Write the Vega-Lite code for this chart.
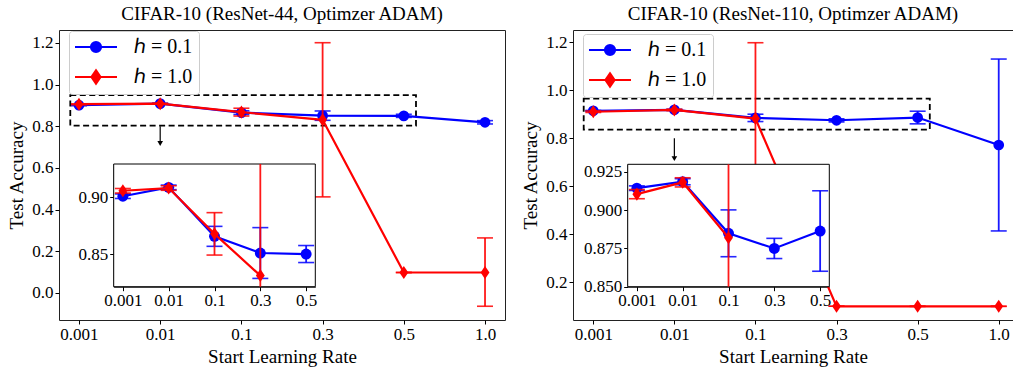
{
  "$schema": "https://vega.github.io/schema/vega-lite/v6.json",
  "background": "white",
  "padding": {"left": 7, "top": 4, "right": 0, "bottom": 0},
  "autosize": {"type": "pad"},
  "spacing": 68,
  "bounds": "flush",
  "config": {
    "font": "Liberation Serif",
    "view": {"stroke": "#222222", "strokeWidth": 1},
    "axis": {"grid": false, "domain": false, "labelFont": "Liberation Serif", "labelFontSize": 17, "labelColor": "black", "titleFont": "Liberation Serif", "titleFontSize": 19, "titleFontWeight": "normal", "titleColor": "black", "tickColor": "black", "tickSize": 4, "labelPadding": 2, "titlePadding": 5},
    "title": {"font": "Liberation Serif", "fontSize": 19, "fontWeight": "normal", "color": "black", "offset": 6},
    "legend": {"orient": "none", "legendX": 10, "legendY": 1, "title": null, "labelFont": "Liberation Serif", "labelFontSize": 20, "labelColor": "black", "symbolSize": 100, "symbolOpacity": 1, "symbolStrokeWidth": 2.2, "symbolOffset": 11, "labelOffset": 28, "rowPadding": 9, "padding": 6, "strokeColor": "#cccccc", "fillColor": "rgba(255,255,255,0.8)", "cornerRadius": 3}
  },
  "datasets": {
    "r44": [
      {"h": "ℎ = 0.1", "idx": 0, "acc": 0.901, "lo": 0.899, "hi": 0.903},
      {"h": "ℎ = 0.1", "idx": 1, "acc": 0.9088, "lo": 0.9068, "hi": 0.9108},
      {"h": "ℎ = 0.1", "idx": 2, "acc": 0.8656, "lo": 0.8568, "hi": 0.8744},
      {"h": "ℎ = 0.1", "idx": 3, "acc": 0.8509, "lo": 0.8285, "hi": 0.8733},
      {"h": "ℎ = 0.1", "idx": 4, "acc": 0.85, "lo": 0.8425, "hi": 0.8575},
      {"h": "ℎ = 0.1", "idx": 5, "acc": 0.819, "lo": 0.811, "hi": 0.827},
      {"h": "ℎ = 1.0", "idx": 0, "acc": 0.9058, "lo": 0.9038, "hi": 0.9078},
      {"h": "ℎ = 1.0", "idx": 1, "acc": 0.9082, "lo": 0.9062, "hi": 0.9102},
      {"h": "ℎ = 1.0", "idx": 2, "acc": 0.8678, "lo": 0.8491, "hi": 0.8865},
      {"h": "ℎ = 1.0", "idx": 3, "acc": 0.831, "lo": 0.461, "hi": 1.201},
      {"h": "ℎ = 1.0", "idx": 4, "acc": 0.098, "lo": 0.098, "hi": 0.098},
      {"h": "ℎ = 1.0", "idx": 5, "acc": 0.098, "lo": -0.064, "hi": 0.264}
    ],
    "r110": [
      {"h": "ℎ = 0.1", "idx": 0, "acc": 0.9144, "lo": 0.9129, "hi": 0.9159},
      {"h": "ℎ = 0.1", "idx": 1, "acc": 0.9186, "lo": 0.9166, "hi": 0.9206},
      {"h": "ℎ = 0.1", "idx": 2, "acc": 0.8849, "lo": 0.8696, "hi": 0.9002},
      {"h": "ℎ = 0.1", "idx": 3, "acc": 0.875, "lo": 0.8684, "hi": 0.8816},
      {"h": "ℎ = 0.1", "idx": 4, "acc": 0.8864, "lo": 0.8601, "hi": 0.9127},
      {"h": "ℎ = 0.1", "idx": 5, "acc": 0.772, "lo": 0.414, "hi": 1.13},
      {"h": "ℎ = 1.0", "idx": 0, "acc": 0.9105, "lo": 0.9075, "hi": 0.9135},
      {"h": "ℎ = 1.0", "idx": 1, "acc": 0.9182, "lo": 0.9152, "hi": 0.9212},
      {"h": "ℎ = 1.0", "idx": 2, "acc": 0.882, "lo": 0.566, "hi": 1.198},
      {"h": "ℎ = 1.0", "idx": 3, "acc": 0.1, "lo": 0.1, "hi": 0.1},
      {"h": "ℎ = 1.0", "idx": 4, "acc": 0.1, "lo": 0.1, "hi": 0.1},
      {"h": "ℎ = 1.0", "idx": 5, "acc": 0.1, "lo": 0.1, "hi": 0.1}
    ]
  },
  "hconcat": [
    {
      "width": 446, "height": 290,
      "title": {"text": "CIFAR-10 (ResNet-44, Optimzer ADAM)"},
      "resolve": {"scale": {"x": "independent", "y": "independent"}, "axis": {"x": "independent", "y": "independent"}},
      "layer": [
        {
          "encoding": {
            "x": {"field": "idx", "type": "quantitative", "title": "Start Learning Rate", "scale": {"domain": [-0.246, 5.246], "nice": false, "zero": false}, "axis": {"orient": "bottom", "values": [0, 1, 2, 3, 4, 5], "labelExpr": "['0.001','0.01','0.1','0.3','0.5','1.0'][datum.value]"}},
            "y": {"field": "acc", "type": "quantitative", "title": "Test Accuracy", "scale": {"domain": [-0.13, 1.262], "nice": false, "zero": false}, "axis": {"orient": "left", "values": [0, 0.2, 0.4, 0.6, 0.8, 1.0, 1.2], "format": ".1f"}}
          },
          "layer": [
            {"data": {"name": "r44"}, "transform": [{"filter": "datum.idx == 0 && datum.h == 'ℎ = 0.1'"}], "mark": {"type": "rect", "filled": false, "stroke": "black", "strokeWidth": 1.8, "strokeDash": [6, 3.5]},
             "encoding": {"x": {"datum": -0.107, "type": "quantitative"}, "x2": {"datum": 4.15}, "y": {"datum": 0.803, "type": "quantitative"}, "y2": {"datum": 0.949}}},
            {"data": {"name": "r44"}, "transform": [{"filter": "datum.idx == 0 && datum.h == 'ℎ = 0.1'"}], "mark": {"type": "rule", "color": "black", "strokeWidth": 1.2},
             "encoding": {"x": {"datum": 1, "type": "quantitative"}, "y": {"datum": 0.8, "type": "quantitative"}, "y2": {"datum": 0.722}}},
            {"data": {"name": "r44"}, "transform": [{"filter": "datum.idx == 0 && datum.h == 'ℎ = 0.1'"}], "mark": {"type": "point", "shape": "triangle-down", "filled": true, "color": "black", "size": 32, "opacity": 1},
             "encoding": {"x": {"datum": 1, "type": "quantitative"}, "y": {"datum": 0.717, "type": "quantitative"}}},
            {"data": {"name": "r44"}, "transform": [{"filter": "datum.h == 'ℎ = 0.1'"}],
             "layer": [
               {"mark": {"type": "rule", "color": "#0000ff", "strokeWidth": 1.8, "opacity": 0.9}, "encoding": {"y": {"field": "lo", "type": "quantitative", "title": "Test Accuracy"}, "y2": {"field": "hi"}}},
               {"mark": {"type": "tick", "color": "#0000ff", "orient": "horizontal", "size": 16, "thickness": 1.6, "opacity": 0.85}, "encoding": {"y": {"field": "lo", "type": "quantitative", "title": "Test Accuracy"}}},
               {"mark": {"type": "tick", "color": "#0000ff", "orient": "horizontal", "size": 16, "thickness": 1.6, "opacity": 0.85}, "encoding": {"y": {"field": "hi", "type": "quantitative", "title": "Test Accuracy"}}},
               {"mark": {"type": "line", "color": "#0000ff", "strokeWidth": 2.2, "opacity": 1}},
               {"mark": {"type": "point", "color": "#0000ff", "shape": "circle", "filled": true, "size": 115, "opacity": 1}}
             ]},
            {"data": {"name": "r44"}, "transform": [{"filter": "datum.h == 'ℎ = 1.0'"}],
             "layer": [
               {"mark": {"type": "rule", "color": "#ff0000", "strokeWidth": 1.8, "opacity": 0.9}, "encoding": {"y": {"field": "lo", "type": "quantitative", "title": "Test Accuracy"}, "y2": {"field": "hi"}}},
               {"mark": {"type": "tick", "color": "#ff0000", "orient": "horizontal", "size": 16, "thickness": 1.6, "opacity": 0.85}, "encoding": {"y": {"field": "lo", "type": "quantitative", "title": "Test Accuracy"}}},
               {"mark": {"type": "tick", "color": "#ff0000", "orient": "horizontal", "size": 16, "thickness": 1.6, "opacity": 0.85}, "encoding": {"y": {"field": "hi", "type": "quantitative", "title": "Test Accuracy"}}},
               {"mark": {"type": "line", "color": "#ff0000", "strokeWidth": 2.2, "opacity": 1}},
               {"mark": {"type": "point", "color": "#ff0000", "shape": "M0,-1L0.68,0L0,1L-0.68,0Z", "filled": true, "size": 170, "opacity": 1}}
             ]},
            {"data": {"name": "r44"},
             "mark": {"type": "point", "filled": true, "size": 0, "opacity": 1},
             "encoding": {
               "fill": {"field": "h", "type": "nominal", "scale": {"domain": ["ℎ = 0.1", "ℎ = 1.0"], "range": ["#0000ff", "#ff0000"]}},
               "stroke": {"field": "h", "type": "nominal", "scale": {"domain": ["ℎ = 0.1", "ℎ = 1.0"], "range": ["#0000ff", "#ff0000"]}},
               "shape": {"field": "h", "type": "nominal", "scale": {"domain": ["ℎ = 0.1", "ℎ = 1.0"], "range": ["M-4.2,0L4.2,0M1,0A1,1,0,1,1,-1,0A1,1,0,1,1,1,0Z", "M-4.2,0L4.2,0M0,-1.3L0.9,0L0,1.3L-0.9,0Z"]}}
             }}
          ]
        },
        {
          "encoding": {
            "x": {"field": "idx", "type": "quantitative", "title": null, "scale": {"domain": [-0.2, 4.2], "range": [54.7, 256.3], "nice": false, "zero": false}, "axis": {"orient": "bottom", "offset": -33.3, "values": [0, 1, 2, 3, 4], "labelExpr": "['0.001','0.01','0.1','0.3','0.5'][datum.value]", "title": null, "domain": true, "domainColor": "black"}},
            "y": {"field": "acc", "type": "quantitative", "title": null, "scale": {"domain": [0.8212, 0.9294], "range": [256.7, 134], "clamp": true, "nice": false, "zero": false}, "axis": {"orient": "left", "offset": -54.7, "values": [0.85, 0.9], "format": ".2f", "title": null, "domain": true, "domainColor": "black"}}
          },
          "layer": [
            {"data": {"name": "r44"}, "transform": [{"filter": "datum.idx == 0 && datum.h == 'ℎ = 0.1'"}], "mark": {"type": "rect", "fill": "white", "stroke": "black", "strokeWidth": 1},
             "encoding": {"x": {"datum": -0.2, "type": "quantitative"}, "x2": {"datum": 4.2}, "y": {"datum": 0.8212, "type": "quantitative"}, "y2": {"datum": 0.9294}}},
            {"data": {"name": "r44"}, "transform": [{"filter": "datum.h == 'ℎ = 0.1' && datum.idx <= 4 && datum.acc >= 0.8212 && datum.acc <= 0.9294"}],
             "layer": [
               {"mark": {"type": "rule", "color": "#0000ff", "strokeWidth": 1.8, "opacity": 0.9}, "encoding": {"y": {"field": "lo", "type": "quantitative", "title": null}, "y2": {"field": "hi"}}},
               {"transform": [{"filter": "datum.lo >= 0.8212"}], "mark": {"type": "tick", "color": "#0000ff", "orient": "horizontal", "size": 16, "thickness": 1.6, "opacity": 0.85}, "encoding": {"y": {"field": "lo", "type": "quantitative", "title": null}}},
               {"transform": [{"filter": "datum.hi <= 0.9294"}], "mark": {"type": "tick", "color": "#0000ff", "orient": "horizontal", "size": 16, "thickness": 1.6, "opacity": 0.85}, "encoding": {"y": {"field": "hi", "type": "quantitative", "title": null}}},
               {"mark": {"type": "line", "color": "#0000ff", "strokeWidth": 2.2, "opacity": 1}},
               {"mark": {"type": "point", "color": "#0000ff", "shape": "circle", "filled": true, "size": 120, "opacity": 1}}
             ]},
            {"data": {"name": "r44"}, "transform": [{"filter": "datum.h == 'ℎ = 1.0' && datum.idx <= 4 && datum.acc >= 0.8212 && datum.acc <= 0.9294"}],
             "layer": [
               {"mark": {"type": "rule", "color": "#ff0000", "strokeWidth": 1.8, "opacity": 0.9}, "encoding": {"y": {"field": "lo", "type": "quantitative", "title": null}, "y2": {"field": "hi"}}},
               {"transform": [{"filter": "datum.lo >= 0.8212"}], "mark": {"type": "tick", "color": "#ff0000", "orient": "horizontal", "size": 16, "thickness": 1.6, "opacity": 0.85}, "encoding": {"y": {"field": "lo", "type": "quantitative", "title": null}}},
               {"transform": [{"filter": "datum.hi <= 0.9294"}], "mark": {"type": "tick", "color": "#ff0000", "orient": "horizontal", "size": 16, "thickness": 1.6, "opacity": 0.85}, "encoding": {"y": {"field": "hi", "type": "quantitative", "title": null}}},
               {"mark": {"type": "line", "color": "#ff0000", "strokeWidth": 2.2, "opacity": 1}},
               {"mark": {"type": "point", "color": "#ff0000", "shape": "M0,-1L0.68,0L0,1L-0.68,0Z", "filled": true, "size": 170, "opacity": 1}}
             ]}
          ]
        }
      ]
    },
    {
      "width": 440, "height": 290,
      "title": {"text": "CIFAR-10 (ResNet-110, Optimzer ADAM)"},
      "resolve": {"scale": {"x": "independent", "y": "independent"}, "axis": {"x": "independent", "y": "independent"}},
      "layer": [
        {
          "encoding": {
            "x": {"field": "idx", "type": "quantitative", "title": "Start Learning Rate", "scale": {"domain": [-0.25, 5.176], "nice": false, "zero": false}, "axis": {"orient": "bottom", "values": [0, 1, 2, 3, 4, 5], "labelExpr": "['0.001','0.01','0.1','0.3','0.5','1.0'][datum.value]"}},
            "y": {"field": "acc", "type": "quantitative", "title": "Test Accuracy", "scale": {"domain": [0.043, 1.251], "nice": false, "zero": false}, "axis": {"orient": "left", "values": [0.2, 0.4, 0.6, 0.8, 1.0, 1.2], "format": ".1f"}}
          },
          "layer": [
            {"data": {"name": "r110"}, "transform": [{"filter": "datum.idx == 0 && datum.h == 'ℎ = 0.1'"}], "mark": {"type": "rect", "filled": false, "stroke": "black", "strokeWidth": 1.8, "strokeDash": [6, 3.5]},
             "encoding": {"x": {"datum": -0.118, "type": "quantitative"}, "x2": {"datum": 4.15}, "y": {"datum": 0.836, "type": "quantitative"}, "y2": {"datum": 0.965}}},
            {"data": {"name": "r110"}, "transform": [{"filter": "datum.idx == 0 && datum.h == 'ℎ = 0.1'"}], "mark": {"type": "rule", "color": "black", "strokeWidth": 1.2},
             "encoding": {"x": {"datum": 1, "type": "quantitative"}, "y": {"datum": 0.8, "type": "quantitative"}, "y2": {"datum": 0.72}}},
            {"data": {"name": "r110"}, "transform": [{"filter": "datum.idx == 0 && datum.h == 'ℎ = 0.1'"}], "mark": {"type": "point", "shape": "triangle-down", "filled": true, "color": "black", "size": 32, "opacity": 1},
             "encoding": {"x": {"datum": 1, "type": "quantitative"}, "y": {"datum": 0.715, "type": "quantitative"}}},
            {"data": {"name": "r110"}, "transform": [{"filter": "datum.h == 'ℎ = 0.1'"}],
             "layer": [
               {"mark": {"type": "rule", "color": "#0000ff", "strokeWidth": 1.8, "opacity": 0.9}, "encoding": {"y": {"field": "lo", "type": "quantitative", "title": "Test Accuracy"}, "y2": {"field": "hi"}}},
               {"mark": {"type": "tick", "color": "#0000ff", "orient": "horizontal", "size": 16, "thickness": 1.6, "opacity": 0.85}, "encoding": {"y": {"field": "lo", "type": "quantitative", "title": "Test Accuracy"}}},
               {"mark": {"type": "tick", "color": "#0000ff", "orient": "horizontal", "size": 16, "thickness": 1.6, "opacity": 0.85}, "encoding": {"y": {"field": "hi", "type": "quantitative", "title": "Test Accuracy"}}},
               {"mark": {"type": "line", "color": "#0000ff", "strokeWidth": 2.2, "opacity": 1}},
               {"mark": {"type": "point", "color": "#0000ff", "shape": "circle", "filled": true, "size": 115, "opacity": 1}}
             ]},
            {"data": {"name": "r110"}, "transform": [{"filter": "datum.h == 'ℎ = 1.0'"}],
             "layer": [
               {"mark": {"type": "rule", "color": "#ff0000", "strokeWidth": 1.8, "opacity": 0.9}, "encoding": {"y": {"field": "lo", "type": "quantitative", "title": "Test Accuracy"}, "y2": {"field": "hi"}}},
               {"mark": {"type": "tick", "color": "#ff0000", "orient": "horizontal", "size": 16, "thickness": 1.6, "opacity": 0.85}, "encoding": {"y": {"field": "lo", "type": "quantitative", "title": "Test Accuracy"}}},
               {"mark": {"type": "tick", "color": "#ff0000", "orient": "horizontal", "size": 16, "thickness": 1.6, "opacity": 0.85}, "encoding": {"y": {"field": "hi", "type": "quantitative", "title": "Test Accuracy"}}},
               {"mark": {"type": "line", "color": "#ff0000", "strokeWidth": 2.2, "opacity": 1}},
               {"mark": {"type": "point", "color": "#ff0000", "shape": "M0,-1L0.68,0L0,1L-0.68,0Z", "filled": true, "size": 170, "opacity": 1}}
             ]},
            {"data": {"name": "r110"},
             "mark": {"type": "point", "filled": true, "size": 0, "opacity": 1},
             "encoding": {
               "fill": {"field": "h", "type": "nominal", "scale": {"domain": ["ℎ = 0.1", "ℎ = 1.0"], "range": ["#0000ff", "#ff0000"]}, "legend": {"legendY": 4}},
               "stroke": {"field": "h", "type": "nominal", "scale": {"domain": ["ℎ = 0.1", "ℎ = 1.0"], "range": ["#0000ff", "#ff0000"]}, "legend": {"legendY": 4}},
               "shape": {"field": "h", "type": "nominal", "scale": {"domain": ["ℎ = 0.1", "ℎ = 1.0"], "range": ["M-4.2,0L4.2,0M1,0A1,1,0,1,1,-1,0A1,1,0,1,1,1,0Z", "M-4.2,0L4.2,0M0,-1.3L0.9,0L0,1.3L-0.9,0Z"]}, "legend": {"legendY": 4}}
             }}
          ]
        },
        {
          "encoding": {
            "x": {"field": "idx", "type": "quantitative", "title": null, "scale": {"domain": [-0.2, 4.2], "range": [54.7, 256.3], "nice": false, "zero": false}, "axis": {"orient": "bottom", "offset": -33.3, "values": [0, 1, 2, 3, 4], "labelExpr": "['0.001','0.01','0.1','0.3','0.5'][datum.value]", "title": null, "domain": true, "domainColor": "black"}},
            "y": {"field": "acc", "type": "quantitative", "title": null, "scale": {"domain": [0.85, 0.93], "range": [256.7, 134.3], "clamp": true, "nice": false, "zero": false}, "axis": {"orient": "left", "offset": -54.7, "values": [0.85, 0.875, 0.9, 0.925], "format": ".3f", "title": null, "domain": true, "domainColor": "black"}}
          },
          "layer": [
            {"data": {"name": "r110"}, "transform": [{"filter": "datum.idx == 0 && datum.h == 'ℎ = 0.1'"}], "mark": {"type": "rect", "fill": "white", "stroke": "black", "strokeWidth": 1},
             "encoding": {"x": {"datum": -0.2, "type": "quantitative"}, "x2": {"datum": 4.2}, "y": {"datum": 0.85, "type": "quantitative"}, "y2": {"datum": 0.93}}},
            {"data": {"name": "r110"}, "transform": [{"filter": "datum.h == 'ℎ = 0.1' && datum.idx <= 4 && datum.acc >= 0.85 && datum.acc <= 0.93"}],
             "layer": [
               {"mark": {"type": "rule", "color": "#0000ff", "strokeWidth": 1.8, "opacity": 0.9}, "encoding": {"y": {"field": "lo", "type": "quantitative", "title": null}, "y2": {"field": "hi"}}},
               {"transform": [{"filter": "datum.lo >= 0.85"}], "mark": {"type": "tick", "color": "#0000ff", "orient": "horizontal", "size": 16, "thickness": 1.6, "opacity": 0.85}, "encoding": {"y": {"field": "lo", "type": "quantitative", "title": null}}},
               {"transform": [{"filter": "datum.hi <= 0.93"}], "mark": {"type": "tick", "color": "#0000ff", "orient": "horizontal", "size": 16, "thickness": 1.6, "opacity": 0.85}, "encoding": {"y": {"field": "hi", "type": "quantitative", "title": null}}},
               {"mark": {"type": "line", "color": "#0000ff", "strokeWidth": 2.2, "opacity": 1}},
               {"mark": {"type": "point", "color": "#0000ff", "shape": "circle", "filled": true, "size": 120, "opacity": 1}}
             ]},
            {"data": {"name": "r110"}, "transform": [{"filter": "datum.h == 'ℎ = 1.0' && datum.idx <= 4 && datum.acc >= 0.85 && datum.acc <= 0.93"}],
             "layer": [
               {"mark": {"type": "rule", "color": "#ff0000", "strokeWidth": 1.8, "opacity": 0.9}, "encoding": {"y": {"field": "lo", "type": "quantitative", "title": null}, "y2": {"field": "hi"}}},
               {"transform": [{"filter": "datum.lo >= 0.85"}], "mark": {"type": "tick", "color": "#ff0000", "orient": "horizontal", "size": 16, "thickness": 1.6, "opacity": 0.85}, "encoding": {"y": {"field": "lo", "type": "quantitative", "title": null}}},
               {"transform": [{"filter": "datum.hi <= 0.93"}], "mark": {"type": "tick", "color": "#ff0000", "orient": "horizontal", "size": 16, "thickness": 1.6, "opacity": 0.85}, "encoding": {"y": {"field": "hi", "type": "quantitative", "title": null}}},
               {"mark": {"type": "line", "color": "#ff0000", "strokeWidth": 2.2, "opacity": 1}},
               {"mark": {"type": "point", "color": "#ff0000", "shape": "M0,-1L0.68,0L0,1L-0.68,0Z", "filled": true, "size": 170, "opacity": 1}}
             ]}
          ]
        }
      ]
    }
  ],
  "resolve": {
    "scale": {"fill": "independent", "stroke": "independent", "shape": "independent"},
    "legend": {"fill": "independent", "stroke": "independent", "shape": "independent"}
  }
}
